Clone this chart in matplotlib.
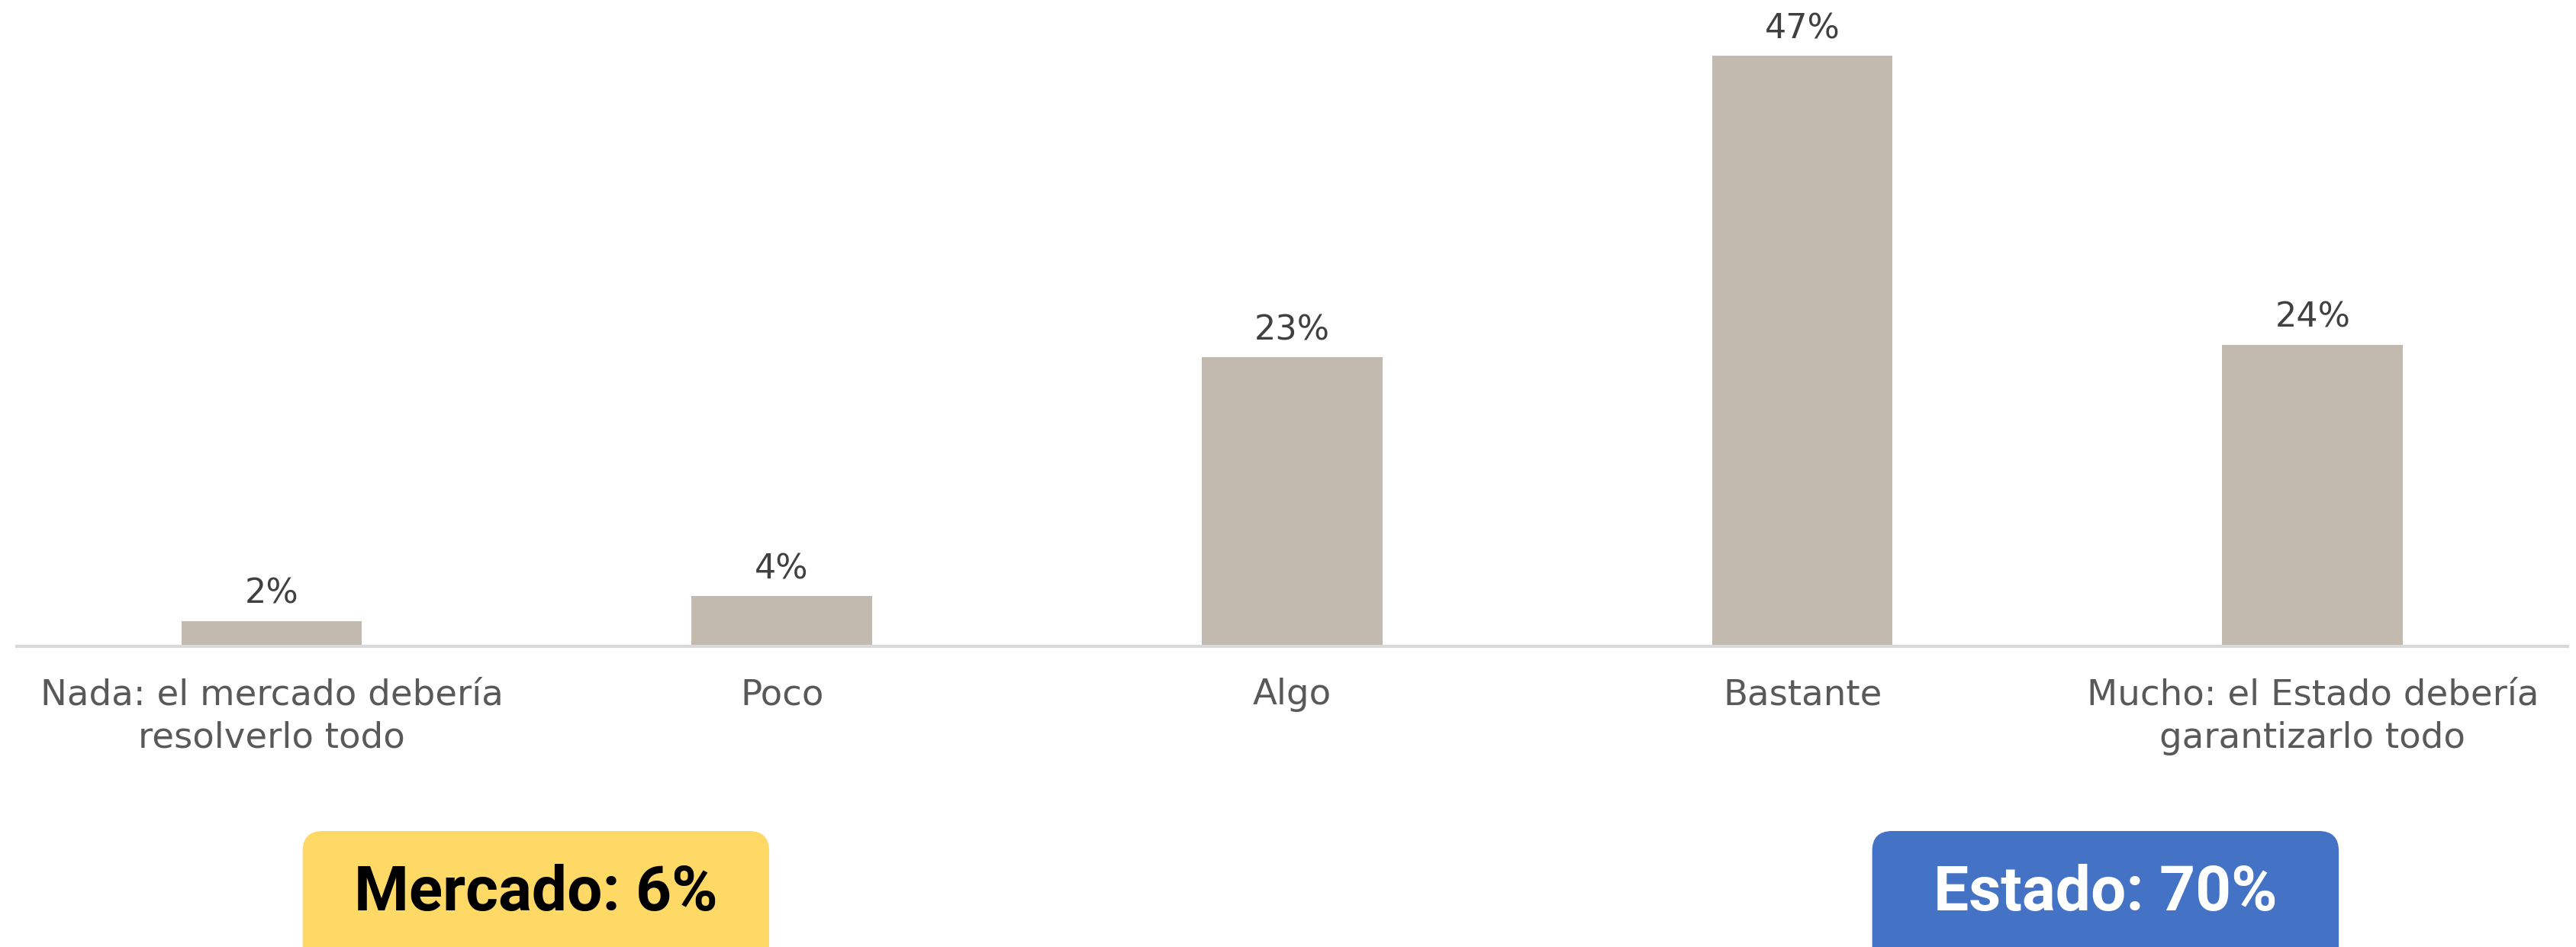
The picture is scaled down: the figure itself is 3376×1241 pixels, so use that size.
import matplotlib.pyplot as plt
from matplotlib.patches import FancyBboxPatch

# Datos
categorias = ['Nada: el mercado debería\nresolverlo todo', 'Poco', 'Algo', 'Bastante',
              'Mucho: el Estado debería\ngarantizarlo todo']
valores = [2, 4, 23, 47, 24]
etiquetas = ['2%', '4%', '23%', '47%', '24%']

resumen_textos = ['Mercado: 6%', 'Estado: 70%']
resumen_pos = [0.518, 3.594]          # centro de cada recuadro (unidades del eje x)
resumen_fondo = ['#FFD966', '#4472C4']
resumen_color = ['black', 'white']

fig = plt.figure(figsize=(16.88, 6.205), dpi=200)
ax = fig.add_axes([0.0064, 0.3177, 0.9904, 0.6823])

x = range(len(valores))
ax.bar(x, valores, width=0.354, color='#C2BAAF', zorder=2)
for xi, v, t in zip(x, valores, etiquetas):
    ax.annotate(t, (xi, v), xytext=(0, 5), textcoords='offset points',
                ha='center', va='bottom', fontsize=16, color='#404040',
                family='DejaVu Sans')

ax.set_xlim(-0.5, 4.5)
ax.set_ylim(0, 51.45)
ax.set_yticks([])
ax.set_xticks(list(x))
ax.set_xticklabels(categorias, fontsize=16.8, color='#595959', family='DejaVu Sans',
                   linespacing=1.33)
ax.tick_params(axis='x', length=0, pad=15)
for s in ['top', 'right', 'left']:
    ax.spines[s].set_visible(False)
ax.spines['bottom'].set_color('#D9D9D9')
ax.spines['bottom'].set_linewidth(1.5)

# Recuadros de resumen (coordenadas en pulgadas)
fig.canvas.draw()
to_in = fig.dpi_scale_trans.inverted()
ancho = 284 * 2.153 / 200
for txt, pos, fondo, col in zip(resumen_textos, resumen_pos, resumen_fondo, resumen_color):
    cx = to_in.transform(ax.transData.transform((pos, 0)))[0]
    caja = FancyBboxPatch((cx - ancho / 2, -0.4), ancho, 1.16,
                          boxstyle='round,pad=0,rounding_size=0.13',
                          transform=fig.dpi_scale_trans, facecolor=fondo,
                          edgecolor='none')
    fig.patches.append(caja)
    fig.text(cx, 0.35, txt, transform=fig.dpi_scale_trans, ha='center', va='center',
             fontsize=29.5, fontweight='bold', color=col, family='Roboto')

fig.savefig('out.png', dpi=200)
